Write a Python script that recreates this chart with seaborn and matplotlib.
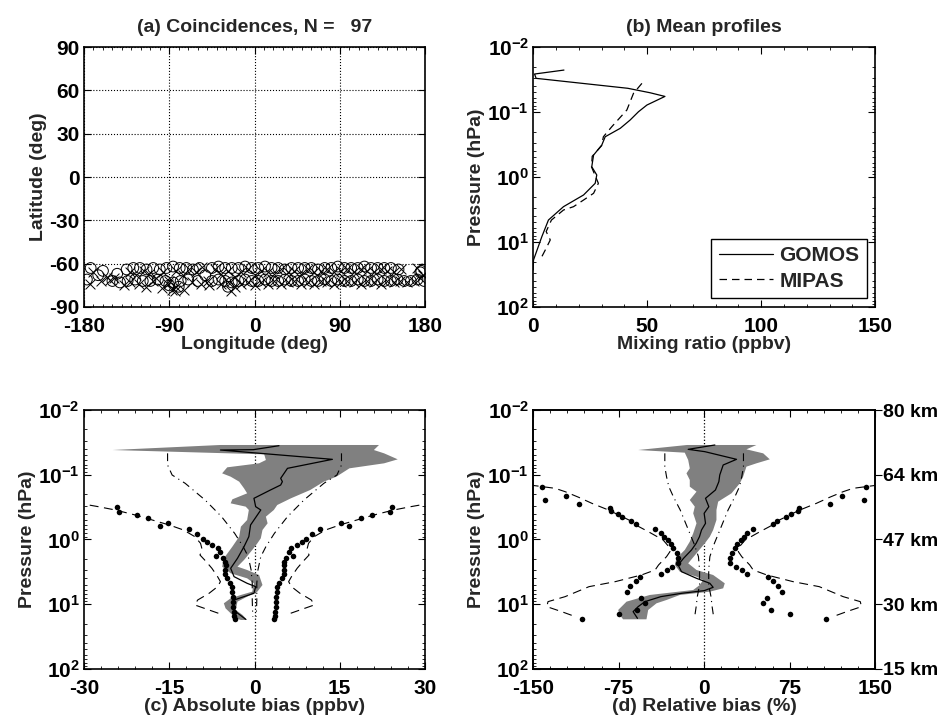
import numpy as np
import matplotlib
matplotlib.use("Agg")
import matplotlib.pyplot as plt
import seaborn as sns
from matplotlib.ticker import LogLocator, AutoMinorLocator, NullLocator, NullFormatter

# ---- (a) coincidence locations: GOMOS (circles) and MIPAS (crosses) ----
gom_lon = [-173, -160, -145, -135, -128, -121, -114, -107, -100, -93, -86, -79, -72, -65, -58,
           -45, -38, -31, -24, -17, -10, -3, 4, 11, 18, 25, 32, 39, 46, 53, 60, 67, 74, 81, 88,
           95, 102, 109, 116, 123, 130, 137, 144, 152, 176,
           -177, -150, -142, -134, -126, -118, -110, -102, -94, -86, -78, -70, -60, -45, -38,
           -31, -24, -17, -10, -3, 4, 11, 18, 25, 32, 39, 46, 53, 60, 67, 74, 81, 88, 95, 102,
           109, 116, 123, 130, 137, 144, 151, 158, 165, 172, 179,
           -165, -90, -80, -52, -28, 175]
gom_lat = [-63, -65, -67, -64, -63, -63, -64, -63, -64, -63, -62, -63, -63, -64, -63,
           -63, -62, -63, -63, -63, -62, -63, -63, -62, -63, -63, -64, -63, -63, -63, -63, -64,
           -63, -63, -62, -63, -63, -63, -62, -63, -63, -63, -63, -64, -65,
           -71, -72, -73, -72, -71, -72, -72, -71, -72, -73, -72, -71, -72, -72, -71,
           -72, -73, -72, -71, -72, -72, -71, -72, -72, -71, -72, -72, -71, -72, -72, -71, -72,
           -71, -72, -72, -71, -72, -72, -71, -72, -72, -71, -72, -72, -71, -72,
           -68, -75, -76, -68, -76, -66]
mip_lon = [-170, -156, -148, -131, -125, -117, -111, -104, -97, -90, -83, -76, -69, -62, -55,
           -42, -35, -28, -21, -14, -7, 0, 7, 14, 21, 28, 35, 42, 49, 56, 63, 70, 77, 84, 91,
           98, 105, 112, 119, 126, 133, 140, 147, 155, 178,
           -174, -153, -138, -131, -122, -115, -107, -98, -91, -83, -74, -66, -57, -48, -35,
           -28, -21, -14, -7, 0, 7, 14, 21, 28, 35, 42, 49, 56, 63, 70, 77, 84, 91, 98, 105,
           112, 119, 126, 133, 140, 147, 154, 161, 168, 175, 178,
           -162, -87, -84, -49, -25, 171]
mip_lat = [-66, -69, -70, -66, -68, -65, -67, -70, -66, -72, -65, -68, -64, -66, -62,
           -64, -67, -65, -69, -66, -64, -68, -65, -66, -67, -64, -66, -65, -67, -64, -66, -65,
           -64, -66, -65, -64, -66, -64, -65, -66, -64, -65, -66, -64, -68,
           -74, -71, -75, -73, -74, -76, -72, -77, -74, -76, -78, -73, -74, -75, -74,
           -73, -76, -74, -73, -75, -73, -74, -72, -74, -73, -72, -74, -73, -74, -72, -73, -74,
           -73, -72, -73, -74, -72, -73, -74, -72, -73, -72, -73, -72, -70, -68,
           -72, -78, -79, -72, -79, -63]

# ---- (b) mean profiles (ppbv vs hPa) ----
gomos_p = [0.0226, 0.026, 0.0303, 0.0431, 0.0505, 0.0575, 0.078, 0.0989, 0.133, 0.178, 0.240,
           0.322, 0.459, 0.695, 0.931, 1.25, 1.89, 2.86, 4.59, 8.28, 18.9, 26.9]
gomos_vmr = [13.5, 0.6, 1.3, 41.5, 51.3, 57.8, 49.9, 46.2, 42.5, 38.2, 31.6,
             30.1, 26.5, 25.7, 27.9, 27.2, 22.1, 13.3, 6.7, 3.8, 0.15, 0.0]
mipas_p = [0.0362, 0.0516, 0.093, 0.168, 0.240, 0.33, 0.48, 0.70, 1.25, 1.78, 2.26,
           2.86, 3.22, 4.6, 6.9, 9.3, 13.3, 16.8]
mipas_vmr = [47.7, 44.0, 41.1, 34.5, 30.8, 30.0, 25.9, 25.6, 28.6, 26.5, 22.1,
             17.7, 13.3, 8.0, 5.7, 7.5, 5.3, 3.8]

# ---- (c) absolute bias (ppbv) ----
c_mean_p = [0.0356, 0.0410, 0.0415, 0.0578, 0.0796, 0.0951, 0.1136, 0.1279, 0.1440, 0.1720,
            0.2312, 0.3111, 0.3502, 0.4999, 0.5972, 0.9042, 1.290, 1.954, 2.788, 3.750, 4.753,
            5.352, 6.784, 7.638, 8.598, 12.27, 17.10]
c_mean = [4.3, -0.2, -6.0, 13.7, 5.8, 5.2, 4.6, 4.9, 4.6, 2.8,
          -0.1, 0.2, 1.1, -0.1, -0.7, -1.0, -1.85, -3.0, -4.2, -3.6, -1.3,
          0.2, -0.1, -1.85, -3.6, -3.7, -1.55]
c_lo_p = [0.0347, 0.0415, 0.0484, 0.0592, 0.0666, 0.0768, 0.0951, 0.1071, 0.1279, 0.1621,
          0.1936, 0.2397, 0.2763, 0.3111, 0.3502, 0.4999, 0.6337, 0.9042, 1.290, 1.954, 2.628,
          3.331, 3.980, 4.753, 6.394, 7.196, 8.104, 9.678, 11.56, 13.8, 16.50, 17.51]
c_lo = [-6.0, -25.0, 1.7, 2.0, 0.8, -4.8, -5.7, -4.2, -2.7, -1.85,
        -1.3, -3.9, -4.2, -1.55, -1.0, -1.3, -2.4, -2.7, -3.9, -5.4, -5.7,
        -4.2, -1.3, -0.1, -0.4, -2.4, -4.2, -5.4, -5.1, -4.2, -3.3, -2.4]
c_hi_p = [0.0347, 0.0415, 0.0467, 0.0578, 0.0666, 0.0796, 0.1071, 0.1279, 0.1720, 0.2312,
          0.2932, 0.3502, 0.4440, 0.5627, 0.7133, 0.9594, 1.146, 1.452, 2.073, 2.628, 2.958,
          3.534, 5.044, 6.394, 7.638, 9.123, 12.27, 14.66, 17.51]
c_hi = [21.9, 21.0, 22.8, 25.2, 22.8, 16.7, 14.4, 12.2, 9.8, 6.4,
        4.0, 3.4, 2.0, 2.3, 1.4, 1.1, 0.5, -0.4, -1.85, -3.0, -1.3,
        0.8, 1.4, 0.5, -1.3, -3.0, -3.3, -2.1, -1.3]
c_dd_p = [0.0467, 0.0707, 0.1009, 0.1357, 0.2455, 0.4440, 0.8030, 1.290, 1.841, 2.958,
          4.753, 8.598, 12.27, 15.55]
c_dd = [15.3, 15.3, 14.5, 12.2, 8.7, 5.8, 3.5, 2.0, 1.1, 0.6, 0.4, 0.4, 0.35, 0.3]
c_dash_p = [0.2698, 0.3111, 0.3502, 0.4184, 0.4999, 0.5972, 0.7133, 0.9042, 1.146, 1.452,
            1.735, 2.200, 2.788, 3.750, 4.480, 5.352, 6.784, 8.598, 10.27, 12.27, 14.66]
c_dash = [31.5, 27.5, 24.5, 21.0, 18.0, 15.0, 12.5, 10.5, 9.5, 9.2,
          9.6, 8.5, 7.5, 6.5, 6.0, 6.5, 8.0, 10.0, 10.5, 8.0, 5.5]
c_dot_p = [0.3185, 0.3716, 0.4184, 0.4711, 0.5495, 0.6188, 0.6966, 0.8224, 0.9940, 1.080,
           1.216, 1.337, 1.541, 1.777, 1.908, 2.200, 2.476, 2.958, 3.451, 3.980, 4.642,
           5.352, 6.394, 7.638, 9.123, 10.90, 13.02, 15.19, 17.10]
c_dot = [24.2, 23.8, 20.7, 18.7, 15.3, 16.6, 11.6, 10.2, 9.0, 8.4,
         7.5, 6.4, 6.1, 6.7, 5.5, 5.2, 5.1, 5.2, 5.2, 4.9, 4.3,
         4.0, 3.9, 3.8, 3.7, 3.7, 3.6, 3.55, 3.5]

# ---- (d) relative bias (%) ----
d_mean_p = [0.0347, 0.0405, 0.0440, 0.0578, 0.0707, 0.1009, 0.1279, 0.1720, 0.2312, 0.3111,
            0.3944, 0.5627, 0.7133, 0.9042, 1.146, 1.452, 1.954, 2.476, 3.140, 3.980, 4.753,
            5.481, 6.170, 6.784, 7.638, 9.123, 10.90, 13.02, 16.50]
d_mean = [9.4, -14.0, 0.6, 28.4, 16.7, 13.7, 12.9, 9.9, 1.2, 4.1,
          0.0, 1.2, -2.3, -4.1, -7.0, -11.1, -18.1, -22.8, -19.9, -6.7, 5.0,
          7.9, 0.0, -19.9, -38.0, -52.0, -57.9, -62.3, -58.5]
d_lo_p = [0.0347, 0.0415, 0.0456, 0.0592, 0.0796, 0.0951, 0.1205, 0.1528, 0.1825, 0.2455,
          0.3111, 0.3944, 0.5627, 0.8030, 1.080, 1.452, 1.954, 2.476, 3.140, 3.750, 4.223,
          5.044, 6.025, 7.196, 9.123, 12.27, 14.66, 17.10]
d_lo = [-15.0, -57.9, -17.0, -14.0, -12.6, -15.5, -12.6, -12.6, -6.7, -12.6,
        -8.2, -9.6, -6.7, -9.6, -12.6, -17.0, -24.3, -25.7, -21.3, -6.7, -0.9,
        -3.8, -9.6, -47.7, -68.1, -75.4, -74.0, -71.1]
d_hi_p = [0.0347, 0.0405, 0.0467, 0.0578, 0.0666, 0.0750, 0.1071, 0.1357, 0.1936, 0.2604,
          0.3502, 0.4999, 0.7133, 0.9042, 1.146, 1.635, 2.334, 2.958, 3.534, 4.753, 5.678,
          6.394, 7.196, 8.598, 9.678, 12.27, 17.10]
d_hi = [45.9, 37.1, 51.8, 57.6, 45.9, 37.1, 34.2, 31.3, 24.0, 12.3,
        10.8, 10.8, 7.9, 5.0, 0.6, -6.7, -14.0, -6.7, 7.9, 18.1, 16.7,
        5.0, -21.3, -33.0, -41.8, -49.1, -50.6]
d_dd_p = [0.0467, 0.0750, 0.1071, 0.1528, 0.2182, 0.3502, 0.6337, 1.146, 1.841, 2.958,
          5.044, 7.638, 10.90, 16.50]
d_dd = [34.5, 34.5, 33.0, 31.0, 27.0, 21.0, 15.0, 9.0, 5.0, 4.0, 4.0, 6.0, 7.0, 8.5]
d_dash_p = [0.1440, 0.1621, 0.1825, 0.2233, 0.2763, 0.3502, 0.4999, 0.5972, 0.7567, 1.018,
            1.290, 1.541, 1.841, 2.476, 2.958, 3.534, 4.480, 5.352, 7.638, 9.123, 10.90,
            13.02, 15.55]
d_dash = [153, 130.7, 122, 110, 98.5, 84, 66, 60, 49, 36,
          31, 30, 33, 40, 43, 55, 78, 101, 122, 137, 138, 125, 113]
d_dot_p = [0.1564, 0.2129, 0.2425, 0.2829, 0.3262, 0.3673, 0.4087, 0.4547, 0.5180, 0.5832,
           0.6966, 0.7843, 0.9042, 1.018, 1.160, 1.369, 1.635, 1.954, 2.280, 2.628, 2.958,
           3.411, 3.750, 4.375, 5.227, 6.394, 8.104, 9.451, 12.27, 14.15, 17.10]
d_dot = [142, 121, 140, 110, 83, 82, 76, 72, 64, 60,
         43, 38, 35, 32, 29, 27, 24, 23, 23, 28, 33,
         38, 56, 60, 65, 68, 55, 52, 59, 75, 107]

km_labels = ['80 km', '64 km', '47 km', '30 km', '15 km']
km_ticks = [1e-2, 1e-1, 1e0, 1e1, 1e2]

sns.set_theme(style="ticks")
plt.rcParams['font.family'] = ['Liberation Sans', 'DejaVu Sans']
plt.rcParams['font.weight'] = 'bold'
plt.rcParams['axes.unicode_minus'] = False
plt.rcParams['mathtext.fontset'] = 'custom'
plt.rcParams['mathtext.rm'] = 'Liberation Sans:bold'
plt.rcParams['mathtext.it'] = 'Liberation Sans:bold'
plt.rcParams['mathtext.bf'] = 'Liberation Sans:bold'
plt.rcParams['mathtext.default'] = 'rm'

FS = 14
TFS = 15
fig = plt.figure(figsize=(9.42, 7.24), dpi=100)
ax_a = fig.add_axes([0.0892, 0.576, 0.362, 0.359])
ax_b = fig.add_axes([0.566, 0.576, 0.363, 0.359])
ax_c = fig.add_axes([0.0892, 0.076, 0.362, 0.3577])
ax_d = fig.add_axes([0.566, 0.076, 0.363, 0.3577])


def style(ax):
    ax.set_facecolor('white')
    ax.tick_params(which='both', direction='in', top=True, right=True,
                   labelsize=TFS, colors='black')
    ax.tick_params(axis='x', pad=7)
    ax.tick_params(axis='y', pad=3)
    ax.tick_params(which='major', length=5, width=0.8)
    ax.tick_params(which='minor', length=2.5, width=0.6)
    for s in ax.spines.values():
        s.set_linewidth(1.2)
        s.set_color('black')
    for lab in ax.get_xticklabels() + ax.get_yticklabels():
        lab.set_fontweight('bold')


def log_pressure(ax):
    ax.set_yscale('log')
    ax.set_ylim(100, 0.01)
    ax.yaxis.set_major_locator(LogLocator(base=10, numticks=10))
    ax.yaxis.set_minor_locator(LogLocator(base=10, subs=np.arange(2, 10), numticks=10))
    ax.yaxis.set_minor_formatter(NullFormatter())
    ax.set_ylabel('Pressure (hPa)', fontsize=FS, fontweight='bold', labelpad=2)


# --- (a) ---
ax_a.scatter(gom_lon, gom_lat, s=60, facecolors='none', edgecolors='black', linewidths=0.7)
ax_a.scatter(mip_lon, mip_lat, s=50, marker='x', color='black', linewidths=0.7)
ax_a.set_xlim(-180, 180)
ax_a.set_ylim(-90, 90)
ax_a.set_xticks([-180, -90, 0, 90, 180])
ax_a.set_yticks([-90, -60, -30, 0, 30, 60, 90])
ax_a.xaxis.set_minor_locator(AutoMinorLocator(9))
ax_a.grid(True, linestyle=':', color='black', linewidth=0.8)
ax_a.set_title('(a) Coincidences, N =   97', fontsize=FS, fontweight='bold', pad=11)
ax_a.set_xlabel('Longitude (deg)', fontsize=FS, fontweight='bold', labelpad=0)
ax_a.set_ylabel('Latitude (deg)', fontsize=FS, fontweight='bold', labelpad=2)
style(ax_a)

# --- (b) ---
sns.lineplot(x=gomos_vmr, y=gomos_p, sort=False, estimator=None, ax=ax_b,
             color='black', linewidth=0.9, label='GOMOS')
sns.lineplot(x=mipas_vmr, y=mipas_p, sort=False, estimator=None, ax=ax_b,
             color='black', linewidth=0.9, linestyle=(0, (6, 4)), label='MIPAS')
log_pressure(ax_b)
ax_b.set_xlim(0, 150)
ax_b.set_xticks([0, 50, 100, 150])
ax_b.xaxis.set_minor_locator(AutoMinorLocator(5))
ax_b.set_title('(b) Mean profiles', fontsize=FS, fontweight='bold', pad=11)
ax_b.set_xlabel('Mixing ratio (ppbv)', fontsize=FS, fontweight='bold', labelpad=0)
leg = ax_b.legend(loc='lower right', bbox_to_anchor=(0.975, 0.035), borderaxespad=0,
                  fontsize=15, frameon=True, fancybox=False, edgecolor='black',
                  framealpha=1, handlelength=2.6, handletextpad=0.3,
                  borderpad=0.35, labelspacing=0.3)
leg.get_frame().set_linewidth(1.0)
for t in leg.get_texts():
    t.set_fontweight('bold')
style(ax_b)


def bias_panel(ax, mp, mv, lop, lov, hip, hiv, ddp, ddv, dsp, dsv, dtp, dtv):
    ax.fill(np.r_[lov, hiv[::-1]], np.r_[lop, hip[::-1]], color='0.5', lw=0, zorder=1)
    ddv = np.asarray(ddv)
    dsv = np.asarray(dsv)
    dtv = np.asarray(dtv)
    for sgn in (-1, 1):
        ax.plot(sgn * ddv, ddp, color='black', lw=0.8, ls=(0, (7, 4, 1, 4)), zorder=2)
        ax.plot(sgn * dsv, dsp, color='black', lw=0.8, ls=(0, (8, 5)), zorder=2)
    sns.scatterplot(x=np.r_[-dtv, dtv], y=np.r_[dtp, dtp], ax=ax, color='black',
                    s=16, linewidth=0, zorder=3)
    ax.plot(mv, mp, color='black', lw=0.9, zorder=4)
    ax.axvline(0, color='black', ls=':', lw=0.9, zorder=0)
    log_pressure(ax)


# --- (c) ---
bias_panel(ax_c, c_mean_p, c_mean, c_lo_p, np.array(c_lo), c_hi_p, np.array(c_hi),
           c_dd_p, c_dd, c_dash_p, c_dash, c_dot_p, c_dot)
ax_c.set_xlim(-30, 30)
ax_c.set_xticks([-30, -15, 0, 15, 30])
ax_c.xaxis.set_minor_locator(AutoMinorLocator(5))
ax_c.set_xlabel('(c) Absolute bias (ppbv)', fontsize=FS, fontweight='bold', labelpad=0)
style(ax_c)

# --- (d) ---
bias_panel(ax_d, d_mean_p, d_mean, d_lo_p, np.array(d_lo), d_hi_p, np.array(d_hi),
           d_dd_p, d_dd, d_dash_p, d_dash, d_dot_p, d_dot)
ax_d.set_xlim(-150, 150)
ax_d.set_xticks([-150, -75, 0, 75, 150])
ax_d.xaxis.set_minor_locator(AutoMinorLocator(5))
ax_d.set_xlabel('(d) Relative bias (%)', fontsize=FS, fontweight='bold', labelpad=0)
style(ax_d)

ax_km = ax_d.twinx()
ax_km.set_yscale('log')
ax_km.set_ylim(100, 0.01)
ax_km.set_yticks(km_ticks)
ax_km.set_yticklabels(km_labels)
ax_km.yaxis.set_minor_locator(NullLocator())
ax_km.tick_params(axis='y', direction='out', length=5, width=0.8, labelsize=14, pad=0.5,
                  colors='black')
for lab in ax_km.get_yticklabels():
    lab.set_fontweight('bold')
for s in ax_km.spines.values():
    s.set_linewidth(1.2)
    s.set_color('black')

fig.savefig('out.png', dpi=100, facecolor='white')
